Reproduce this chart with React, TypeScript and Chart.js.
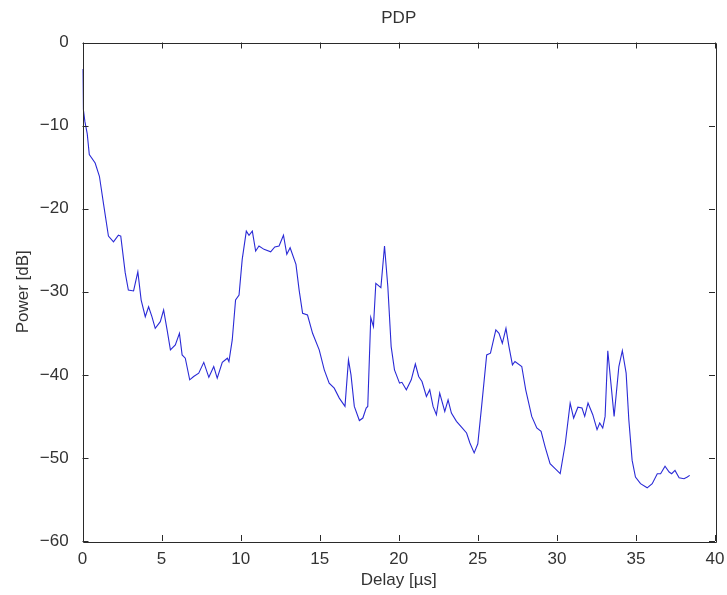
import React, { useEffect, useRef } from "react";
import { Chart, registerables } from "chart.js";

Chart.register(...registerables);

const delays = [
  0, 0.05, 0.15, 0.3, 0.43, 0.8, 1.07, 1.32, 1.64, 1.96, 2.27, 2.42, 2.7, 2.9, 3.23, 3.5, 3.71, 3.97, 4.18, 4.39,
  4.6, 4.92, 5.13, 5.35, 5.56, 5.87, 6.13, 6.3, 6.5, 6.78, 7.03, 7.35, 7.67, 7.99, 8.3, 8.52, 8.84, 9.16, 9.26, 9.47,
  9.68, 9.9, 10.1, 10.36, 10.53, 10.74, 10.95, 11.16, 11.48, 11.9, 12.16, 12.43, 12.71, 12.92, 13.13, 13.5, 13.7, 13.92, 14.23, 14.55,
  14.97, 15.29, 15.6, 15.92, 16.24, 16.6, 16.82, 16.98, 17.19, 17.51, 17.73, 17.94, 18.04, 18.23, 18.4, 18.55, 18.87, 19.1, 19.31, 19.52,
  19.73, 20.05, 20.2, 20.48, 20.79, 21.05, 21.26, 21.47, 21.75, 21.96, 22.17, 22.38, 22.59, 22.91, 23.12, 23.33, 23.65, 23.97, 24.29, 24.5,
  24.77, 25.0, 25.24, 25.56, 25.8, 26.14, 26.34, 26.55, 26.78, 26.97, 27.19, 27.35, 27.78, 28.03, 28.41, 28.73, 29.0, 29.26, 29.57, 29.89,
  30.21, 30.53, 30.84, 31.06, 31.33, 31.59, 31.76, 31.97, 32.27, 32.54, 32.71, 32.9, 33.05, 33.22, 33.62, 33.92, 34.14, 34.38, 34.55, 34.76,
  34.97, 35.29, 35.71, 36.03, 36.35, 36.56, 36.84, 37.1, 37.26, 37.47, 37.73, 38.04, 38.25, 38.4,
];

const powers = [
  -3.2, -8, -9.5, -11, -13.5, -14.5, -16.1, -19.3, -23.3, -24, -23.2, -23.3, -27.7, -29.8, -29.9, -27.6, -31, -33, -31.8, -33,
  -34.4, -33.6, -32.2, -34.6, -37, -36.4, -35, -37.6, -38, -40.6, -40.2, -39.8, -38.5, -40.3, -39, -40.4, -38.5, -38, -38.4, -35.8,
  -31, -30.4, -26.1, -22.7, -23.2, -22.7, -25.1, -24.5, -24.9, -25.2, -24.6, -24.5, -23.2, -25.5, -24.7, -26.7, -29.8, -32.6, -32.8, -35,
  -37, -39.4, -41, -41.6, -42.8, -43.8, -38.2, -40, -43.8, -45.5, -45.2, -44, -43.8, -33.1, -34.2, -29, -29.5, -24.5, -29.4, -36.6,
  -39.4, -41, -40.9, -41.8, -40.6, -38.7, -40.2, -40.8, -42.6, -41.8, -43.8, -44.8, -42.2, -44.4, -43, -44.6, -45.6, -46.3, -47, -48.2,
  -49.4, -48.3, -43.8, -37.6, -37.4, -34.6, -35, -36.2, -34.4, -36.6, -38.8, -38.4, -39, -41.8, -45, -46.4, -46.8, -48.7, -50.7, -51.3,
  -51.9, -48.3, -43.4, -45.2, -43.9, -44, -45, -43.4, -44.8, -46.6, -45.8, -46.4, -45, -37.1, -45, -39, -37.1, -39.8, -45.4, -50.3,
  -52.3, -53.1, -53.6, -53.1, -51.9, -51.9, -51, -51.7, -51.9, -51.5, -52.4, -52.5, -52.3, -52.1,
];

const xMin = 0;
const xMax = 40;
const xStep = 5;
const yMin = -60;
const yMax = 0;
const yStep = 10;

const titleText = "PDP";
const xTitle = "Delay [\u00b5s]";
const yTitle = "Power [dB]";

const FONT = "'Liberation Sans', Arial, Helvetica, sans-serif";
const TEXT = "#333333";
const FS = 17;

const boxPlugin = {
  id: "matlabBox",
  afterDatasetsDraw(chart: any) {
    const { ctx, chartArea, scales } = chart;
    const { left, right, top, bottom } = chartArea;
    ctx.save();
    ctx.strokeStyle = "#2a2a2a";
    ctx.lineWidth = 1;
    ctx.beginPath();
    ctx.rect(Math.round(left) + 0.5, Math.round(top) + 0.5, Math.round(right - left), Math.round(bottom - top));
    ctx.stroke();
    const tl = 6;
    ctx.beginPath();
    scales.x.ticks.forEach((t: any) => {
      const px = Math.round(scales.x.getPixelForValue(t.value)) + 0.5;
      ctx.moveTo(px, bottom);
      ctx.lineTo(px, bottom - tl);
      ctx.moveTo(px, top);
      ctx.lineTo(px, top + tl);
    });
    scales.y.ticks.forEach((t: any) => {
      const py = Math.round(scales.y.getPixelForValue(t.value)) + 0.5;
      ctx.moveTo(left, py);
      ctx.lineTo(left + tl, py);
      ctx.moveTo(right, py);
      ctx.lineTo(right - tl, py);
    });
    ctx.stroke();
    ctx.restore();
  },
};

export default function App() {
  const ref = useRef<HTMLCanvasElement>(null);

  useEffect(() => {
    if (!ref.current) return;
    const points = delays.map((d, i) => ({ x: d, y: powers[i] }));
    const chart = new Chart(ref.current, {
      type: "line",
      data: {
        datasets: [
          {
            data: points,
            borderColor: "#2a2ad6",
            borderWidth: 1.1,
            pointRadius: 0,
            tension: 0,
            fill: false,
          },
        ],
      },
      options: {
        animation: false,
        responsive: true,
        maintainAspectRatio: false,
        layout: { padding: { left: 0, right: 12, top: 0, bottom: 0 } },
        plugins: {
          legend: { display: false },
          tooltip: { enabled: false },
          title: {
            display: true,
            text: titleText,
            fullSize: false,
            color: TEXT,
            font: { family: FONT, size: FS, weight: "normal", lineHeight: 1.2 },
            padding: { top: 7.8, bottom: 14.3 },
          },
        },
        scales: {
          x: {
            type: "linear",
            min: xMin,
            max: xMax,
            grid: { display: false },
            border: { display: false },
            ticks: {
              stepSize: xStep,
              color: TEXT,
              padding: 0,
              font: { family: FONT, size: FS, lineHeight: 1.2 },
              maxRotation: 0,
            },
            title: {
              display: true,
              text: xTitle,
              color: TEXT,
              font: { family: FONT, size: FS, lineHeight: 1.2 },
              padding: { top: 0, bottom: 4.8 },
            },
            afterFit: (s: any) => {
              s.height = 54;
              s.paddingLeft = 0;
              s.paddingRight = 0;
            },
          },
          y: {
            type: "linear",
            min: yMin,
            max: yMax,
            grid: { display: false },
            border: { display: false },
            ticks: {
              stepSize: yStep,
              color: TEXT,
              padding: 5.8,
              font: { family: FONT, size: FS },
              callback: (v: any) => (Number(v) < 0 ? "\u2212" + Math.abs(Number(v)) : String(v)),
            },
            title: {
              display: true,
              text: yTitle,
              color: TEXT,
              font: { family: FONT, size: FS, lineHeight: 1.2 },
              padding: { top: 12.8, bottom: 0 },
            },
            afterFit: (s: any) => {
              s.width = 82.5;
              s.paddingTop = 0;
              s.paddingBottom = 0;
            },
          },
        },
      },
      plugins: [boxPlugin],
    });
    return () => chart.destroy();
  }, []);

  return (
    <div style={{ position: "absolute", left: 0, top: 0, width: 727, height: 595, background: "#fff" }}>
      <canvas ref={ref} />
    </div>
  );
}
